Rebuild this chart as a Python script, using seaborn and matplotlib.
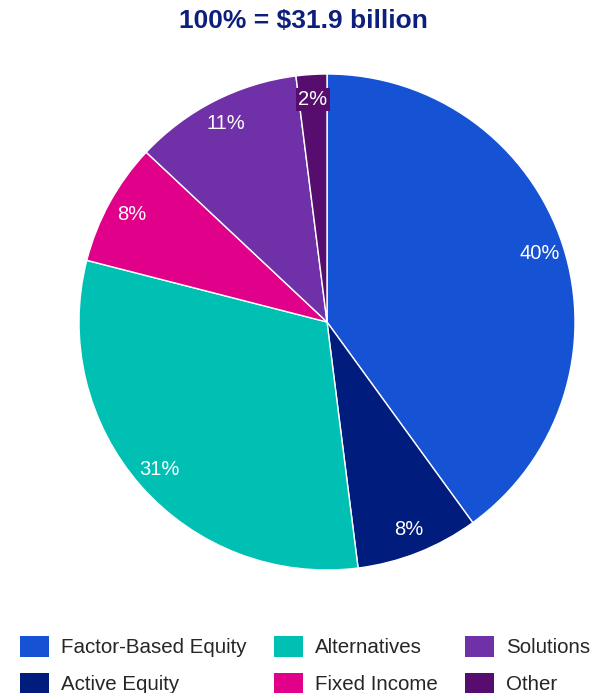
import seaborn as sns
from matplotlib import pyplot as plt
from matplotlib.patches import Patch

# Data (clockwise from 12 o'clock)
categories = ['Factor-Based Equity', 'Active Equity', 'Alternatives', 'Fixed Income', 'Solutions', 'Other']
shares = [40, 8, 31, 8, 11, 2]
pct_labels = ['40%', '8%', '31%', '8%', '11%', '2%']
palette = ['#1652d4', '#001c7c', '#00c0b4', '#e0008a', '#7030a8', '#560d6e']
title_text = '100% = $31.9 billion'

sns.set_theme(style='white')
plt.rcParams['font.family'] = ['Liberation Sans', 'DejaVu Sans']

fig = plt.figure(figsize=(5.99, 6.93), dpi=100, facecolor='white')
W, H = 599, 693
cx, cy, r = 327, 322, 248
ax = fig.add_axes([(cx - r) / W, (H - cy - r) / H, 2 * r / W, 2 * r / H])

wedges, texts, autotexts = ax.pie(shares, colors=palette, startangle=90, counterclock=False,
                                  radius=1, labels=None, autopct=lambda p: '',
                                  pctdistance=0.9,
                                  wedgeprops=dict(edgecolor='white', linewidth=1))
for t, lab, col in zip(autotexts, pct_labels, palette):
    t.set_text(lab)
    t.set_color('white')
    t.set_fontsize(14.5)
    if lab == '2%':
        t.set_bbox(dict(facecolor=col, edgecolor='none', pad=1.5))
ax.set_xlim(-1, 1)
ax.set_ylim(-1, 1)
ax.set_aspect('equal')
ax.axis('off')

fig.text(303 / W, 1 - 21 / H, title_text, ha='center', va='center',
         fontsize=19, fontweight='bold', color='#0d1f7c')

handles = [Patch(facecolor=c, edgecolor='none') for c in palette]
fig.legend(handles, categories, loc='upper left', bbox_to_anchor=(20 / W, 1 - 636 / H),
           ncol=3, frameon=False, fontsize=14.8, handlelength=1.4, handleheight=1.2,
           handletextpad=0.58, columnspacing=1.35, labelspacing=0.75, borderpad=0,
           borderaxespad=0)

fig.savefig('out.png', dpi=100, facecolor='white')
